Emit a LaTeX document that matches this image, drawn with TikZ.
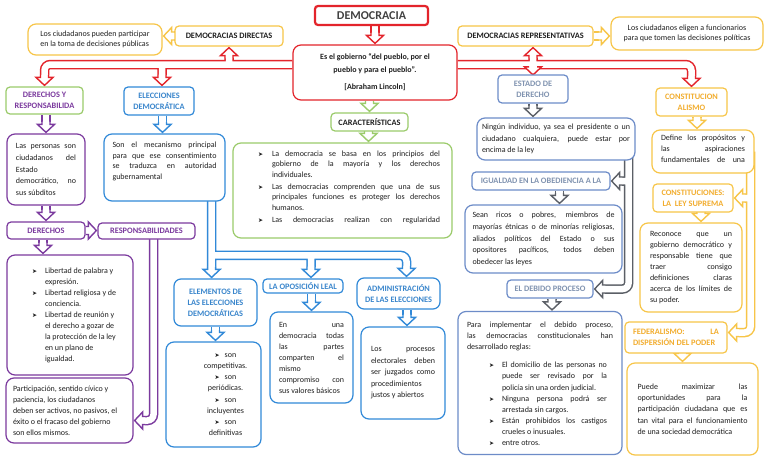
\documentclass[tikz,border=0pt]{standalone}
\usepackage{fontspec}
\setmainfont{Carlito}
\newfontfamily\symfont{DejaVu Sans}
\usetikzlibrary{calc}
\usetikzlibrary{backgrounds}
\usepackage{xcolor}

\definecolor{rojo}{HTML}{E3242B}
\definecolor{amar}{HTML}{F7C548}
\definecolor{nara}{HTML}{F2AD2E}
\definecolor{verde}{HTML}{9BCB6B}
\definecolor{azul}{HTML}{3189D8}
\definecolor{azult}{HTML}{3A86CC}
\definecolor{morado}{HTML}{7B3A9E}
\definecolor{gris}{HTML}{5B5F66}
\definecolor{grisaz}{HTML}{8093B0}
\definecolor{azgris}{HTML}{6D8CC8}
\definecolor{texto}{HTML}{1F1F1F}

\hyphenpenalty=10000
\exhyphenpenalty=10000
\tolerance=9999
\hbadness=10000
\emergencystretch=8pt

\newcommand\bulsym{{\symfont\fontsize{6}{6}\selectfont ➤}}
\newcommand\bitem[1][13pt]{\par\noindent\hangindent=#1\makebox[#1][l]{\bulsym}\ignorespaces}
\newcommand\boxtext[4][c]{\parbox[c][#2][#1]{#3}{#4}}
\newcommand\dflow[4][0]{
  \draw[pipe=#2] ($(#4 |- #3)+(#1,0)$) -- ($(#4)+(#1,-11)$);
  \pic[draw=#2] at ($(#4)+(#1,-1)$) {hd};
}

\tikzset{
  bx/.style={draw=#1, line width=1.2pt, rounded corners=8pt, fill=white, inner sep=0pt, text=texto},
  hdr/.style={bx=#1, rounded corners=4pt, align=center, font=\fontsize{8.3}{11}\selectfont\bfseries},
  tx/.style={font=\fontsize{8}{#1}\selectfont},
  pipe/.style={draw=white, line width=6.5pt, preaction={draw=#1, line width=9.5pt}},
  hd/.pic={\path[pic actions, fill=white, line width=1.4pt]
    (-4,-10.5) -- (-4,-8) -- (-8.5,-8) -- (0,0) -- (8.5,-8) -- (4,-8) -- (4,-10.5);},
  hdn/.pic={\path[pic actions, fill=white, line width=1.4pt]
    (-4,-8) -- (-8.5,-8) -- (0,0) -- (8.5,-8) -- (4,-8);},
}

\begin{document}
\begin{tikzpicture}[x=1pt, y=-1pt]
	\useasboundingbox (0,0) rectangle (768,466);

	% centre
	\node[bx=rojo, line width=2.2pt, rounded corners=3pt, minimum width=113, minimum height=19,
		font=\fontsize{12}{13}\selectfont\bfseries, text=texto!85] (demo) at (371.5,15.5) {DEMOCRACIA};
	\node[bx=rojo, minimum width=164, minimum height=55, align=center,
		font=\fontsize{8}{13}\selectfont\bfseries] (cent) at (375,72.5)
		{Es el gobierno “del pueblo, por el\\pueblo y para el pueblo”.\\[4pt]{[Abraham Lincoln]}};
	\node[hdr=verde, minimum width=77, minimum height=18] (car) at (369.5,122) {CARACTERÍSTICAS};
	\node[bx=verde, minimum width=219, minimum height=95, tx=10.5] (chr) at (342.5,190.5)
		{\hspace*{13pt}\boxtext[t]{80pt}{182pt}{\bitem[14pt] La democracia se basa en los principios del\linebreak gobierno de la mayoría y los derechos\linebreak individuales.\par\vspace{1.5pt}%
		\bitem[14pt] Las democracias comprenden que una de sus\linebreak principales funciones es proteger los derechos\linebreak humanos.\par\vspace{1.5pt}%
		\bitem[14pt] Las democracias realizan con regularidad{\parfillskip=0pt\par}}};

	% directas / representativas
	\node[hdr=amar, minimum width=108, minimum height=20] (ddir) at (229,36) {DEMOCRACIAS DIRECTAS};
	\node[bx=amar, minimum width=134, minimum height=31, tx=10.5, align=left] (ddtxt) at (95,39.5)
		{Los ciudadanos pueden participar\\en la toma de decisiones públicas};
	\node[hdr=amar, minimum width=135, minimum height=20] (drep) at (525.5,36) {DEMOCRACIAS REPRESENTATIVAS};
	\node[bx=amar, minimum width=152, minimum height=33, tx=10.5, align=center] (drtxt) at (687,33.5)
		{Los ciudadanos eligen a funcionarios\\para que tomen las decisiones políticas};

	% derechos y responsabilidades
	\node[hdr=verde, text=morado, minimum width=77, minimum height=27] (dyr) at (44.5,100.5) {DERECHOS Y\\RESPONSABILIDA};
	\node[bx=morado, minimum width=78, minimum height=71, tx=11.7] (pers) at (46,169.5)
		{\boxtext{60pt}{60pt}{Las personas son\linebreak ciudadanos del\linebreak Estado\linebreak democrático, no\linebreak sus súbditos}};
	\node[hdr=morado, text=morado, minimum width=78, minimum height=17] (der) at (46,230.5) {DERECHOS};
	\node[hdr=morado, text=morado, minimum width=97, minimum height=16] (resp) at (146.5,231) {RESPONSABILIDADES};
	\node[bx=morado, minimum width=126, minimum height=120, tx=11] (lib) at (70,315)
		{\hspace*{15pt}\boxtext{104pt}{91pt}{\bitem Libertad de palabra y\newline expresión.%
		\bitem Libertad religiosa y de\newline conciencia.%
		\bitem Libertad de reunión y\newline el derecho a gozar de\newline la protección de la ley\newline en un plano de\newline igualdad.}};
	\node[bx=morado, minimum width=127, minimum height=65, tx=11] (part) at (69.5,410.5)
		{\boxtext{56pt}{113pt}{\raggedright Participación, sentido cívico y\\paciencia, los ciudadanos\\deben ser activos, no pasivos, el\\éxito o el fracaso del gobierno\\son ellos mismos.}};

	% elecciones
	\node[hdr=azul, text=azult, minimum width=70, minimum height=28] (elec) at (159,101) {ELECCIONES\\DEMOCRÁTICA};
	\node[bx=azul, minimum width=121, minimum height=67, tx=10.7] (mec) at (164.5,167.5)
		{\boxtext[t]{51pt}{104pt}{Son el mecanismo principal\linebreak para que ese consentimiento\linebreak se traduzca en autoridad\linebreak gubernamental}};
	\node[hdr=azul, text=azult, rounded corners=7pt, minimum width=83, minimum height=47] (elem) at (215.5,302.5)
		{ELEMENTOS DE\\LAS ELECCIONES\\DEMOCRÁTICAS};
	\node[bx=azul, minimum width=95, minimum height=105, tx=11.2] (elist) at (213.5,394.5)
		{\hspace*{24pt}\boxtext{92pt}{60pt}{\centering\bulsym\hspace{5pt}son\\competitivas.\\\bulsym\hspace{5pt}son\\periódicas.\\\bulsym\hspace{5pt}son\\incluyentes\\\bulsym\hspace{5pt}son\\definitivas}};
	\node[hdr=azul, text=azult, minimum width=80, minimum height=14] (opo) at (303,286) {LA OPOSICIÓN LEAL};
	\node[bx=azul, minimum width=83, minimum height=91, tx=11] (optxt) at (311.5,357.5)
		{\boxtext{80pt}{65pt}{En una\linebreak democracia todas\linebreak las partes\linebreak comparten el\linebreak mismo\linebreak compromiso con\linebreak sus valores básicos}};
	\node[hdr=azul, text=azult, rounded corners=7pt, minimum width=83, minimum height=31] (adm) at (398.5,293.5)
		{ADMINISTRACIÓN\\DE LAS ELECCIONES};
	\node[bx=azul, minimum width=84, minimum height=92, tx=11.5] (admtxt) at (403,373)
		{\boxtext{60pt}{64pt}{Los procesos\linebreak electorales deben\linebreak ser juzgados como\linebreak procedimientos\linebreak justos y abiertos}};

	% estado de derecho
	\node[hdr=azgris, text=grisaz, minimum width=70, minimum height=28] (est) at (533,89) {ESTADO DE\\DERECHO};
	\node[bx=azgris, minimum width=158, minimum height=42, tx=11.5] (ning) at (556,139)
		{\boxtext{36pt}{148pt}{Ningún individuo, ya sea el presidente o un\linebreak ciudadano cualquiera, puede estar por\linebreak encima de la ley}};
	\node[hdr=azgris, text=grisaz, minimum width=138, minimum height=18] (igu) at (541,181) {IGUALDAD EN LA OBEDIENCIA A LA};
	\node[bx=azgris, minimum width=157, minimum height=68, tx=11.7] (sean) at (543.5,239)
		{\boxtext{60pt}{142pt}{Sean ricos o pobres, miembros de\linebreak mayorías étnicas o de minorías religiosas,\linebreak aliados políticos del Estado o sus\linebreak opositores pacíficos, todos deben\linebreak obedecer las leyes}};
	\node[hdr=azgris, text=grisaz, minimum width=86, minimum height=18] (deb) at (550,289) {EL DEBIDO PROCESO};
	\node[bx=azgris, minimum width=164, minimum height=143, tx=11.1] (para) at (540,383)
		{\boxtext[t]{122pt}{146pt}{Para implementar el debido proceso,\linebreak las democracias constitucionales han\linebreak desarrollado reglas:\par\vspace{7pt}\leftskip=22pt\rightskip=6pt
		\bitem El domicilio de las personas no\linebreak puede ser revisado por la\linebreak policía sin una orden judicial.%
		\bitem Ninguna persona podrá ser\linebreak arrestada sin cargos.%
		\bitem Están prohibidos los castigos\linebreak crueles o inusuales.%
		\bitem entre otros.}};

	% constitucionalismo
	\node[hdr=amar, text=nara, minimum width=71, minimum height=28] (cons) at (691.5,102) {CONSTITUCION\\ALISMO};
	\node[bx=amar, minimum width=102, minimum height=43, tx=11] (cdef) at (703,151.5)
		{\boxtext[t]{33pt}{84pt}{Define los propósitos y\linebreak las aspiraciones\linebreak fundamentales de una{\parfillskip=0pt\par}}};
	\node[hdr=amar, text=nara, minimum width=80, minimum height=28] (clsup) at (693,198) {CONSTITUCIONES:\\LA~~LEY SUPREMA};
	\node[bx=amar, minimum width=102, minimum height=89, tx=11] (recon) at (691,267.5)
		{\boxtext{80pt}{82pt}{Reconoce que un\linebreak gobierno democrático y\linebreak responsable tiene que\linebreak traer consigo\linebreak definiciones claras\linebreak acerca de los límites de\linebreak su poder.}};
	\node[hdr=amar, text=nara, minimum width=102, minimum height=31] (fed) at (676,337.5)
		{\boxtext{24pt}{86pt}{FEDERALISMO: LA\linebreak DISPERSIÓN DEL PODER}};
	\node[bx=amar, minimum width=131, minimum height=92, tx=11.3] (pued) at (692.5,409)
		{\boxtext{70pt}{110pt}{Puede maximizar las\linebreak oportunidades para la\linebreak participación ciudadana que es\linebreak tan vital para el funcionamiento\linebreak de una sociedad democrática}};

	\begin{pgfonlayer}{background}
		\fill[white] (0,0) rectangle (768,466);
		% red
		\dflow{rojo}{demo.south}{cent.north}
		\coordinate (rl) at ($(cent.west)+(0,-8)$);
		\coordinate (rr) at ($(cent.east)+(0,-8)$);
		\draw[pipe=rojo, rounded corners=6] (rl) -- (rl -| dyr.north) -- ($(dyr.north)+(0,-11)$)
			($(rl -| elec.north)+(3,0)$) -- ($(elec.north)+(3,-11)$)
			(rl -| ddir.south) -- ($(ddir.south)+(0,11)$)
			(rr) -- (rr -| cons.north) -- ($(cons.north)+(0,-11)$)
			($(est.north |- drep.south)+(0,11)$) -- ($(est.north)+(0,-11)$);
		\pic[draw=rojo] at ($(dyr.north)+(0,-1)$) {hd};
		\pic[draw=rojo] at ($(elec.north)+(3,-1)$) {hd};
		\pic[draw=rojo, rotate=180] at ($(ddir.south)+(0,1)$) {hd};
		\pic[draw=rojo] at ($(cons.north)+(0,-1)$) {hd};
		\pic[draw=rojo, rotate=180] at ($(est.north |- drep.south)+(0,1)$) {hd};
		\pic[draw=rojo] at ($(est.north)+(0,0.5)$) {hdn};
		% yellow
		\draw[pipe=amar] (ddir.west) -- ($(ddtxt.east |- ddir.west)+(11,0)$);
		\pic[draw=amar, rotate=-90] at ($(ddtxt.east |- ddir.west)+(1,0)$) {hd};
		\draw[pipe=amar] (drep.east) -- ($(drtxt.west |- drep.east)+(-11,0)$);
		\pic[draw=amar, rotate=90] at ($(drtxt.west |- drep.east)+(-1,0)$) {hd};
		\dflow[-6]{amar}{cons.south}{cdef.north}
		\dflow[10]{amar}{clsup.south}{recon.north}
		\dflow[-10]{amar}{fed.south}{pued.north}
		\coordinate (yv) at ($(cdef.east)+(-4,0)$);
		\coordinate (fe) at ($(fed.east)+(0,-5)$);
		\draw[pipe=amar, rounded corners=6] (yv) -- (yv |- fe) -- ($(fe)+(11,0)$)
			(yv |- clsup.east) -- ($(clsup.east)+(11,0)$);
		\pic[draw=amar, rotate=-90] at ($(clsup.east)+(1,0)$) {hd};
		\pic[draw=amar, rotate=-90] at ($(fe)+(1,0)$) {hd};
		% green
		\dflow{verde}{cent.south}{car.north}
		\dflow[26]{verde}{car.south}{chr.north}
		% purple
		\dflow{morado}{dyr.south}{pers.north}
		\dflow{morado}{pers.south}{der.north}
		\dflow[-27]{morado}{der.south}{lib.north}
		\draw[pipe=morado] (der.east) -- ($(resp.west |- der.east)+(-11,0)$);
		\pic[draw=morado, rotate=90] at ($(resp.west |- der.east)+(-1,0)$) {hd};
		\coordinate (pv) at ($(resp.center)+(7,0)$);
		\coordinate (pe) at ($(part.east)+(0,10)$);
		\draw[pipe=morado, rounded corners=6] (pv) -- (pv |- pe) -- ($(pe)+(11,0)$);
		\pic[draw=morado, rotate=-90] at ($(pe)+(1,0)$) {hd};
		% blue
		\dflow[-2]{azul}{elec.south}{mec.north}
		\dflow[2]{azul}{elem.south}{elist.north}
		\dflow{azul}{opo.south}{optxt.north}
		\dflow[4]{azul}{adm.south}{admtxt.north}
		\coordinate (bv) at ($(mec.south east)+(-14,-10)$);
		\coordinate (bh) at ($(bv |- elem.north)+(0,-23)$);
		\coordinate (an) at ($(adm.north)+(8,0)$);
		\coordinate (on) at ($(opo.north)+(8,0)$);
		\draw[pipe=azul, rounded corners=6] (bv) -- ($(bv |- elem.north)+(0,-11)$)
			(bh) -- (bh -| an) -- ($(an)+(0,-11)$)
			(bh -| on) -- ($(on)+(0,-11)$);
		\pic[draw=azul] at ($(bv |- elem.north)+(0,-1)$) {hd};
		\pic[draw=azul] at ($(an)+(0,-1)$) {hd};
		\pic[draw=azul] at ($(on)+(0,-1)$) {hd};
		% gray
		\dflow[-23]{gris}{est.south}{ning.north}
		\dflow[16]{gris}{igu.south}{sean.north}
		\dflow[12]{gris}{deb.south}{para.north}
		\coordinate (gv) at ($(ning.east)+(-7,0)$);
		\draw[pipe=gris, rounded corners=6] (gv) -- (gv |- deb.east) -- ($(deb.east)+(11,0)$)
			(gv |- igu.east) -- ($(igu.east)+(11,0)$);
		\pic[draw=gris, rotate=-90] at ($(igu.east)+(1,0)$) {hd};
		\pic[draw=gris, rotate=-90] at ($(deb.east)+(1,0)$) {hd};
	\end{pgfonlayer}
\end{tikzpicture}
\end{document}
